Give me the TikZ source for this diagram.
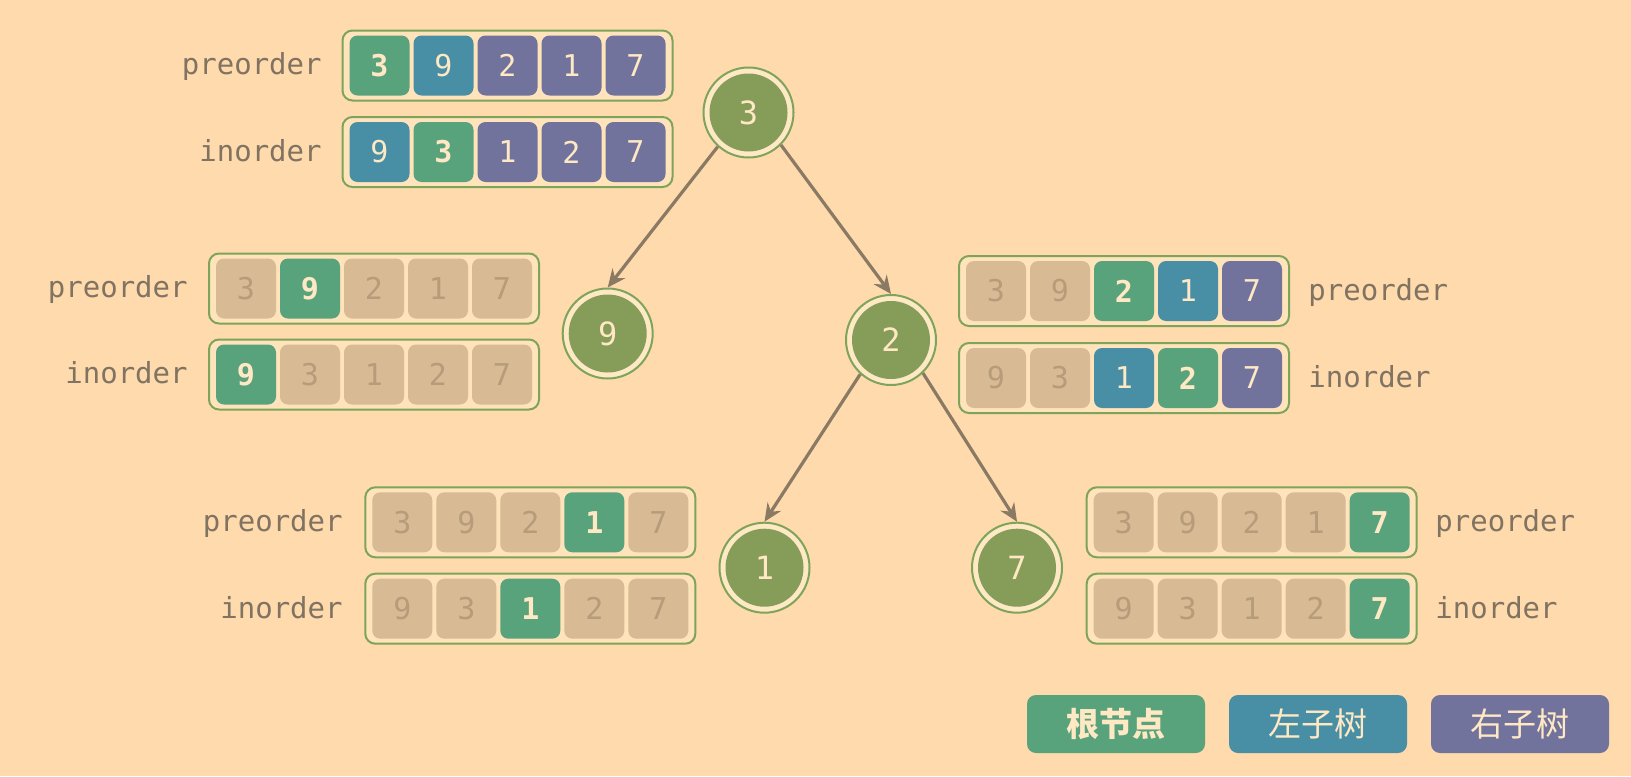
\documentclass[tikz,border=0pt]{standalone}
\usepackage{fontspec}
\newfontfamily\monof{DejaVu Sans Mono}
\newfontfamily\cjk{Noto Sans CJK SC}
\usetikzlibrary{arrows.meta}
\definecolor{cBg}{RGB}{254,218,172}
\definecolor{cBox}{RGB}{255,227,187}
\definecolor{cOut}{RGB}{125,164,90}
\definecolor{cNode}{RGB}{134,157,89}
\definecolor{cRoot}{RGB}{89,163,124}
\definecolor{cLeft}{RGB}{72,143,166}
\definecolor{cRight}{RGB}{113,115,156}
\definecolor{cOff}{RGB}{216,186,148}
\definecolor{cOffText}{RGB}{182,156,122}
\definecolor{cLab}{RGB}{128,115,98}
\definecolor{cText}{RGB}{255,232,196}
\definecolor{cEdge}{RGB}{138,122,100}
\tikzset{
  arrbox/.style={draw=cOut, line width=1pt, fill=cBox, rounded corners=5pt,
    minimum width=165pt, minimum height=35pt, inner sep=0pt},
  cell/.style={rounded corners=4pt, minimum width=30pt, minimum height=30pt,
    inner sep=0pt, font=\monof\fontsize{15}{15}\selectfont},
  rootc/.style={fill=cRoot, text=cText, font=\monof\bfseries\fontsize{15}{15}\selectfont},
  leftc/.style={fill=cLeft, text=cText},
  rightc/.style={fill=cRight, text=cText},
  offc/.style={fill=cOff, text=cOffText},
  lab/.style={text=cLab, inner sep=0pt, font=\monof\fontsize{14.5}{15}\selectfont},
  tnode/.style={circle, minimum size=45pt, inner sep=0pt, draw=cOut, line width=1pt,
    fill=cText, text=cText, font=\monof\fontsize{16}{16}\selectfont,
    path picture={\fill[cNode] (path picture bounding box.center) circle (19.5pt);}},
  edge/.style={draw=cEdge, line width=1.6pt, -{Stealth[length=9pt, width=8pt, inset=3pt]}},
  legend/.style={rounded corners=4.5pt, minimum width=89pt, minimum height=29pt,
    inner sep=0pt, text=cText, font=\cjk\fontsize{16.5}{16.5}\selectfont}
}
\newcommand{\cellrow}[4]{%
  \node[arrbox] (#1) at (#2,#3) {};
  \foreach \st/\val [count=\k] in {#4} {
    \node[cell,\st] (#1-\k) at ({#2+(\k-3)*64},#3) {\val};
  }
}
\begin{document}
\begin{tikzpicture}[x=0.5pt, y=-0.5pt]
\fill[cBg] (0,0) rectangle (1631,776);
\useasboundingbox (0,0) rectangle (1631,776);

% tree
\node[tnode] (n3) at (748.5,112.5) {3};
\node[tnode] (n9) at (607.7,333.5) {9};
\node[tnode] (n2) at (891,340) {2};
\node[tnode] (n1) at (764.5,567.7) {1};
\node[tnode] (n7) at (1017,567.7) {7};
\draw[edge] (n3.-132) -- (n9.north);
\draw[edge] (n3.-45) -- (n2.north);
\draw[edge] (n2.-132) -- (n1.north);
\draw[edge] (n2.-46) -- (n7.north);

% top arrays
\cellrow{Ap}{507.5}{65.5}{rootc/3,leftc/9,rightc/2,rightc/1,rightc/7}
\cellrow{Ai}{507.5}{152}{leftc/9,rootc/3,rightc/1,rightc/2,rightc/7}
\node[lab, anchor=mid east] (Apl) at (322,70.5) {preorder};
\node[lab, anchor=mid east] (Ail) at (322,157) {inorder};

% left-middle arrays
\cellrow{Bp}{374}{288.5}{offc/3,rootc/9,offc/2,offc/1,offc/7}
\cellrow{Bi}{374}{374.5}{rootc/9,offc/3,offc/1,offc/2,offc/7}
\node[lab, anchor=mid east] (Bpl) at (188,293.5) {preorder};
\node[lab, anchor=mid east] (Bil) at (188,379.5) {inorder};

% right-middle arrays
\cellrow{Cp}{1124}{291}{offc/3,offc/9,rootc/2,leftc/1,rightc/7}
\cellrow{Ci}{1124}{378}{offc/9,offc/3,leftc/1,rootc/2,rightc/7}
\node[lab, anchor=mid west] (Cpl) at (1308,296) {preorder};
\node[lab, anchor=mid west] (Cil) at (1308,383) {inorder};

% bottom-left arrays
\cellrow{Dp}{530.3}{522.3}{offc/3,offc/9,offc/2,rootc/1,offc/7}
\cellrow{Di}{530.3}{608.7}{offc/9,offc/3,rootc/1,offc/2,offc/7}
\node[lab, anchor=mid east] (Dpl) at (343,527.3) {preorder};
\node[lab, anchor=mid east] (Dil) at (343,613.7) {inorder};

% bottom-right arrays
\cellrow{Ep}{1251.7}{522.3}{offc/3,offc/9,offc/2,offc/1,rootc/7}
\cellrow{Ei}{1251.7}{608.7}{offc/9,offc/3,offc/1,offc/2,rootc/7}
\node[lab, anchor=mid west] (Epl) at (1435,527.3) {preorder};
\node[lab, anchor=mid west] (Eil) at (1435,613.7) {inorder};

% legend
\node[legend, fill=cRoot, font=\cjk\bfseries\fontsize{16.5}{16.5}\selectfont] (lg1) at (1116,724) {根节点};
\node[legend, fill=cLeft] (lg2) at (1318,724) {左子树};
\node[legend, fill=cRight] (lg3) at (1520,724) {右子树};
\end{tikzpicture}
\end{document}
